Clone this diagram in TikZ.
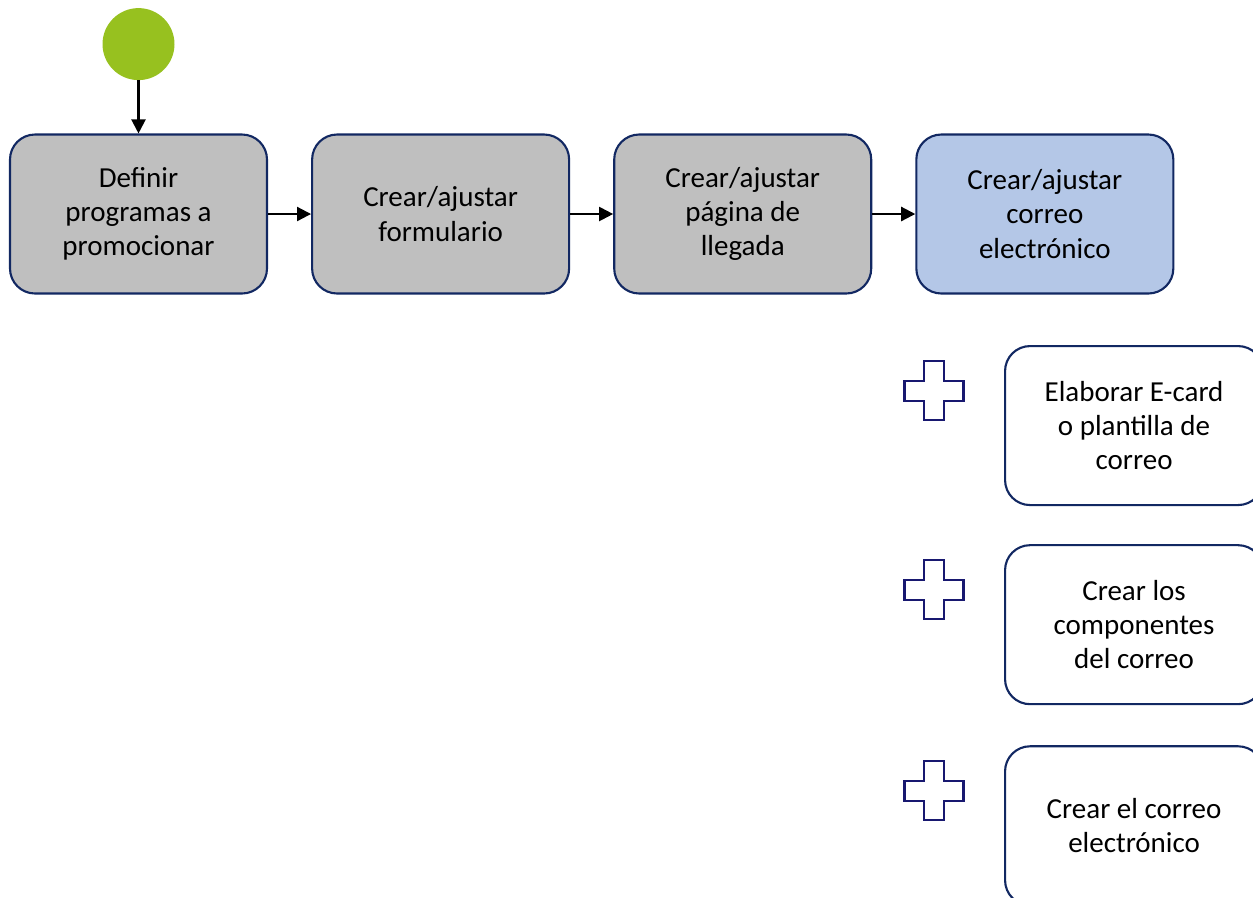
\documentclass[tikz,border=0pt]{standalone}
\usepackage{fontspec}
\setmainfont{Carlito}
\definecolor{stepgray}{RGB}{191,191,191}
\definecolor{stepblue}{RGB}{180,199,231}
\definecolor{stepborder}{RGB}{18,40,98}
\definecolor{startgreen}{RGB}{151,193,31}
\definecolor{plusnavy}{RGB}{24,24,112}
\usetikzlibrary{calc}
\usetikzlibrary{positioning}
\usetikzlibrary{arrows.meta}
\tikzset{
  task/.style={rectangle, rounded corners=0.5cm, draw=stepborder, line width=1.2pt,
    minimum width=5.14cm, minimum height=3.18cm, align=center,
    font=\fontsize{16.5}{19.5}\selectfont},
  subtask/.style={task, fill=white, minimum width=5.16cm},
  flow/.style={-{Triangle[length=8pt,width=8pt]}, line width=1.2pt},
  addmark/.style={draw=plusnavy, line width=1.2pt}
}

\begin{document}
\begin{tikzpicture}
  \useasboundingbox (0,0) rectangle (25.06,-17.94);
  \clip (0,0) rectangle (25.06,-17.94);

  % main flow
  \node [task, fill=stepgray] (d1) at (2.77,-4.28) {Definir\\programas a\\promocionar};
  \node [task, fill=stepgray, right=0.86cm of d1] (d2) {Crear/ajustar\\formulario};
  \node [task, fill=stepgray, right=0.86cm of d2] (d3) {Crear/ajustar\\página de\\llegada};
  \node [task, fill=stepblue, right=0.86cm of d3] (d4) {Crear/ajustar\\correo\\electrónico};

  \node [circle, fill=startgreen, minimum size=1.44cm, above=1.06cm of d1] (start) {};

  \draw [flow] (start) -- (d1);
  \draw [flow] (d1) -- (d2);
  \draw [flow] (d2) -- (d3);
  \draw [flow] (d3) -- (d4);

  % sub tasks of d4
  \node [subtask, anchor=north west] (s1) at (20.08,-6.9) {Elaborar E-card\\o plantilla de\\correo};
  \node [subtask, below=0.76cm of s1] (s2) {Crear los\\componentes\\del correo};
  \node [subtask, below=0.8cm of s2] (s3) {Crear el correo\\electrónico};

  \foreach \s in {s1,s2,s3} {
    \coordinate (p\s) at ($(\s.west)+(-1.4,0.7)$);
    \draw [addmark] (p\s) ++(-0.2,0.59) -- ++(0.4,0) -- ++(0,-0.39) -- ++(0.39,0)
      -- ++(0,-0.4) -- ++(-0.39,0) -- ++(0,-0.39) -- ++(-0.4,0) -- ++(0,0.39)
      -- ++(-0.39,0) -- ++(0,0.4) -- ++(0.39,0) -- cycle;
  }
\end{tikzpicture}
\end{document}
